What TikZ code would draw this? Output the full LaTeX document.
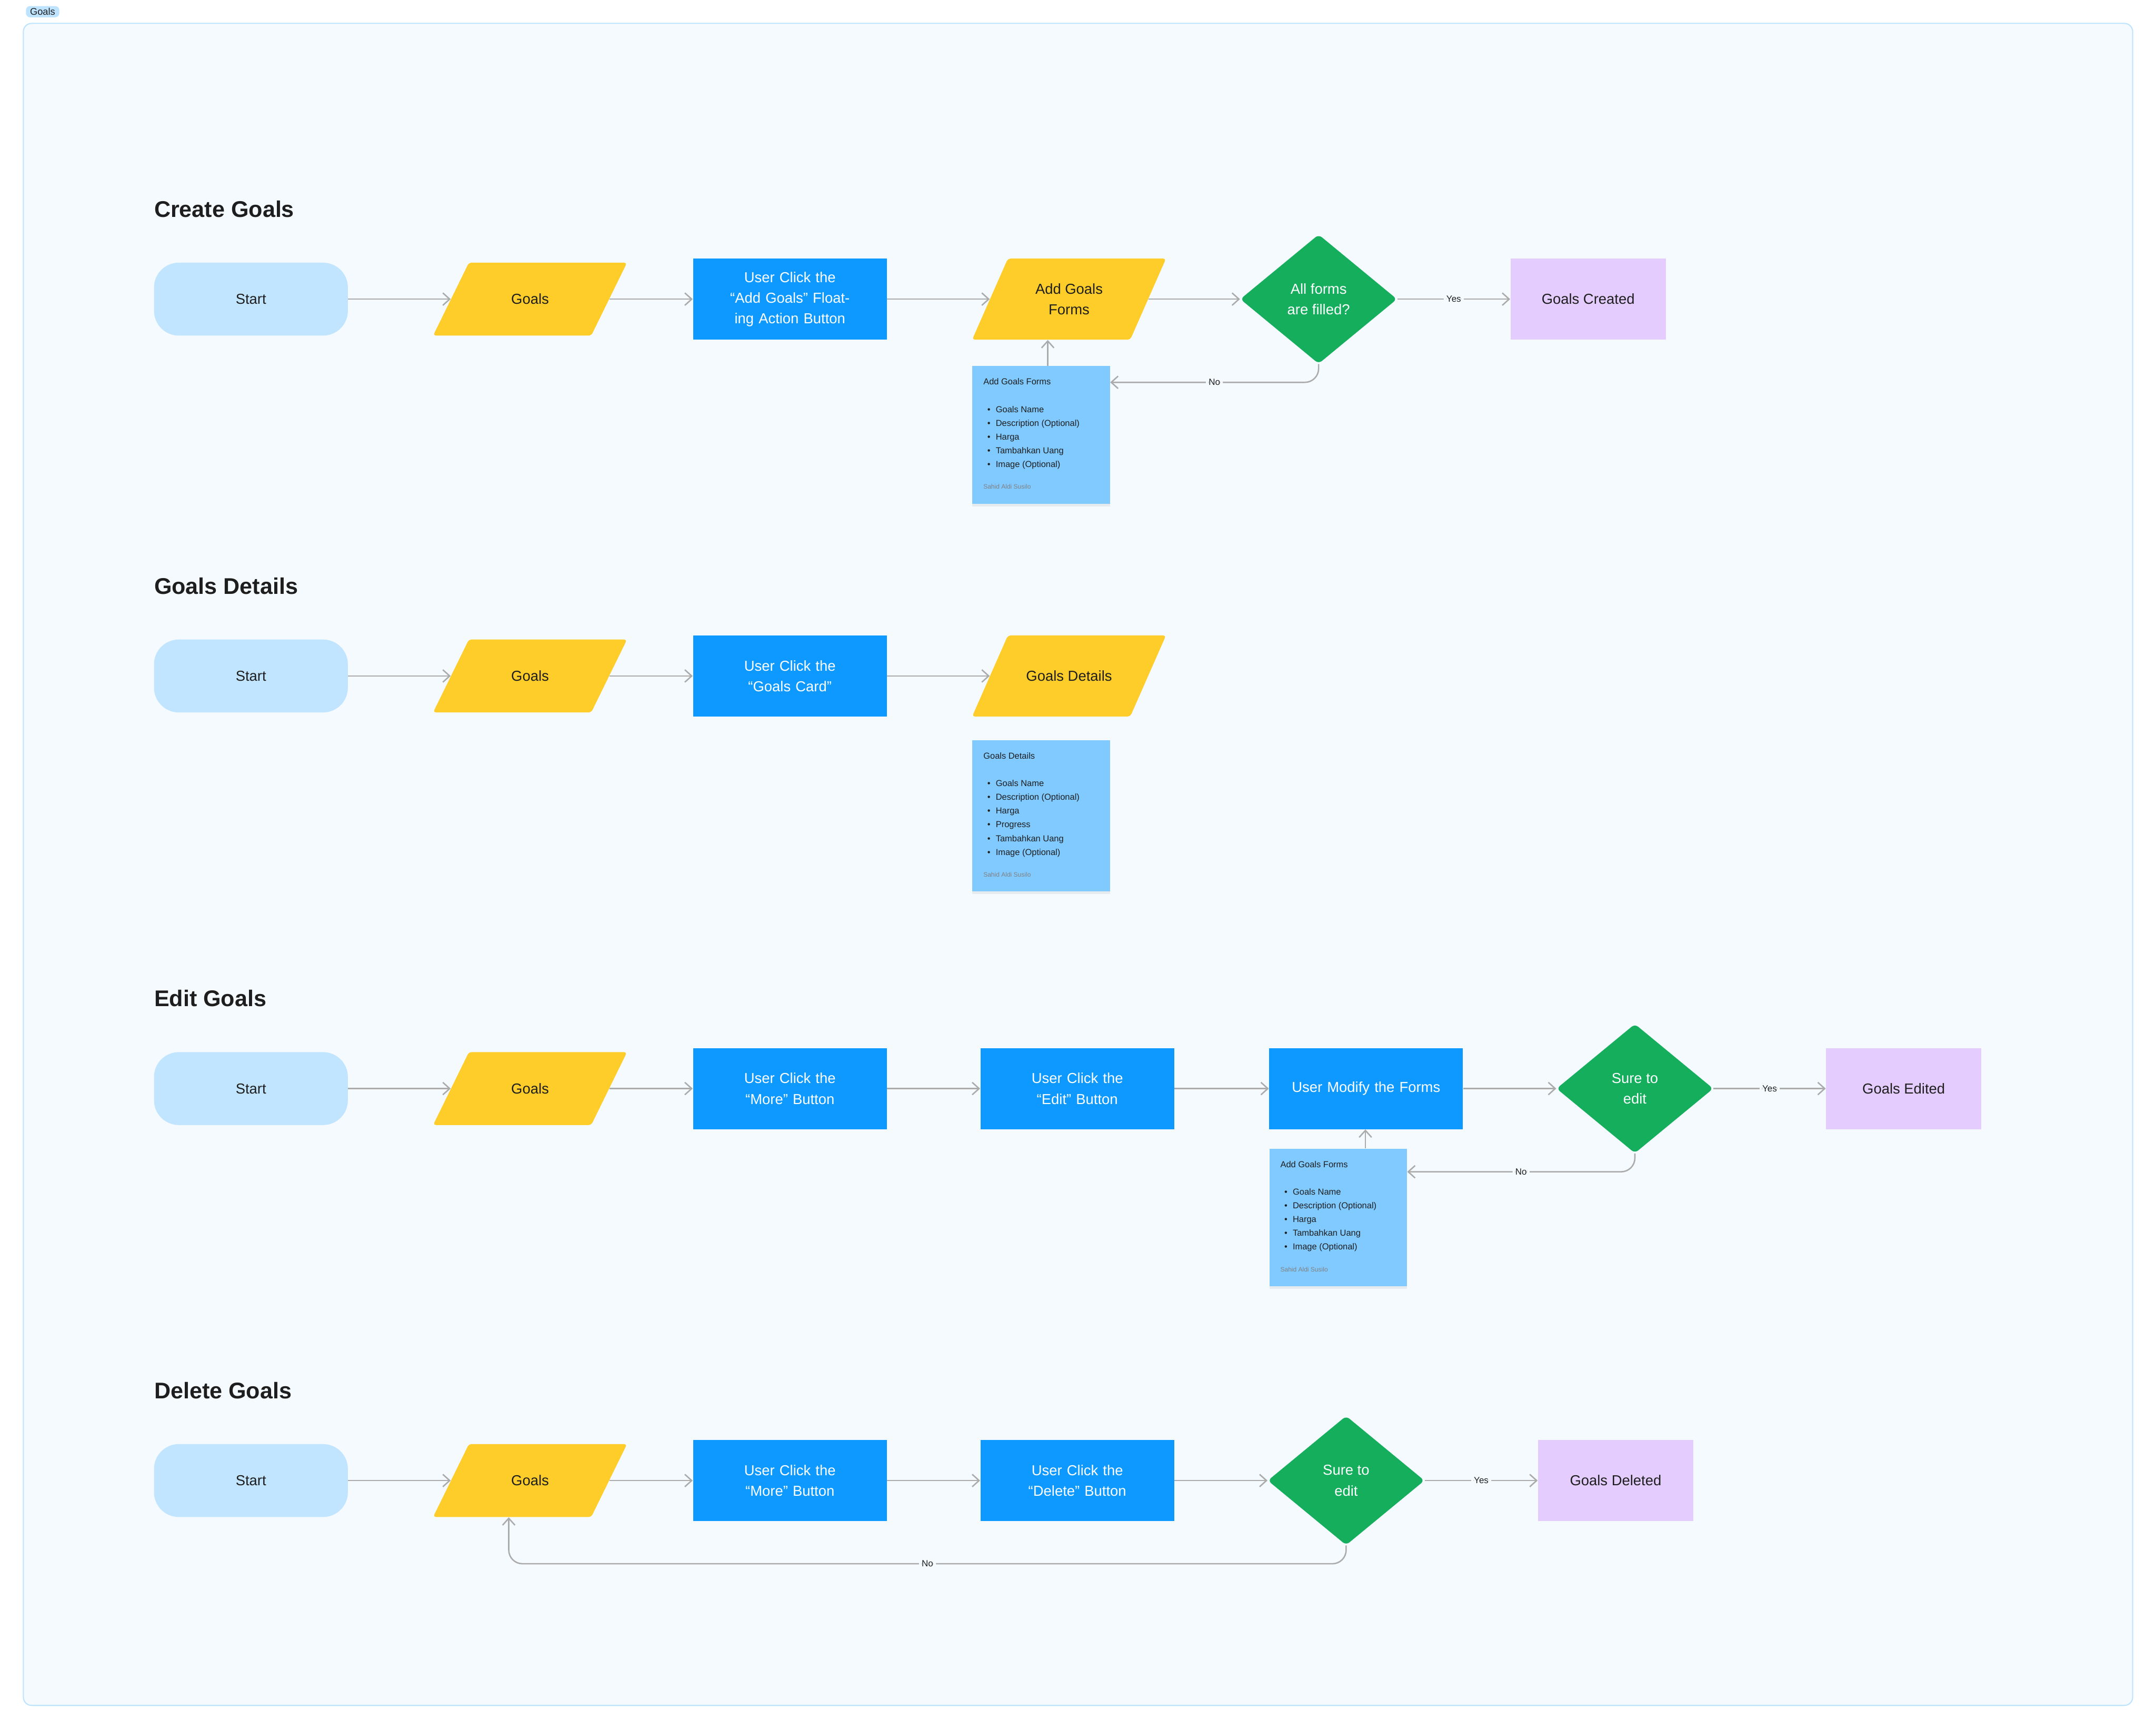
\documentclass[tikz,border=0pt]{standalone}
\usepackage{fontspec}
\setmainfont{Liberation Sans}
\usetikzlibrary{shapes.geometric,arrows.meta,shadows}
\definecolor{bgc}{HTML}{F5FAFF}
\definecolor{brd}{HTML}{BDE3FF}
\definecolor{startc}{HTML}{C2E5FF}
\definecolor{yel}{HTML}{FFCD29}
\definecolor{blu}{HTML}{0D99FF}
\definecolor{grn}{HTML}{14AE5C}
\definecolor{pur}{HTML}{E4CCFF}
\definecolor{notec}{HTML}{80CAFF}
\definecolor{arr}{HTML}{ABABAB}
\definecolor{txt}{HTML}{1E1E1E}
\tikzset{
 base/.style={inner sep=2pt,align=center,font=\fontsize{10.5}{15}\selectfont,text=txt},
 startn/.style={base,fill=startc,rounded corners=18pt,minimum width=141pt,minimum height=53pt},
 paran/.style={base,minimum width=115pt,minimum height=53pt},
 procn/.style={base,fill=blu,text=white,minimum width=141pt,minimum height=59pt,text width=125pt},
 endn/.style={base,fill=pur,minimum width=113pt,minimum height=59pt},
 decn/.style={base,shape=diamond,fill=grn,text=white,minimum width=114pt,minimum height=94pt,inner sep=0pt,rounded corners=3pt},
 noten/.style={fill=notec,minimum width=100pt,minimum height=100pt,anchor=north west,inner sep=0pt,drop shadow={opacity=0.12,shadow xshift=0pt,shadow yshift=-2pt}},
 notet/.style={anchor=north west,align=left,inner sep=0pt,text=txt,font=\fontsize{6.3}{10}\selectfont},
 notea/.style={anchor=north west,inner sep=0pt,text=gray,font=\fontsize{4.6}{6}\selectfont},
 title/.style={anchor=west,inner sep=0pt,text=txt,font=\fontsize{16.5}{20}\selectfont\bfseries},
 con/.style={draw=arr,line width=1pt,-{Straight Barb[length=5pt,width=9pt]},rounded corners=10pt},
 lab/.style={fill=bgc,inner sep=2pt,text=txt,font=\fontsize{6.5}{8}\selectfont},
}
\newcommand{\mypara}[5]{%
 \fill[yel,rounded corners=2pt] (#2-57.5-13,#3+26.5) -- (#2+57.5-13,#3+26.5) -- (#2+57.5+13,#3-26.5) -- (#2-57.5+13,#3-26.5) -- cycle;
 \node[paran,minimum height=53pt] (#1) at (#2,#3) {#4};}
\newcommand{\myparaw}[5]{%
 \fill[yel,rounded corners=2pt] (#2-57.5-13,#3+#5) -- (#2+57.5-13,#3+#5) -- (#2+57.5+13,#3-#5) -- (#2-57.5+13,#3-#5) -- cycle;
 \node[paran,minimum height=2*#5] (#1) at (#2,#3) {#4};}
\newcommand{\bl}{\makebox[10pt][c]{\textbullet}}
\begin{document}
\begin{tikzpicture}[x=1pt,y=-1pt]
\useasboundingbox (0,0) rectangle (1568,1257);
\fill[white] (0,0) rectangle (1568,1257);
\draw[brd,fill=bgc,rounded corners=6pt,line width=0.8pt] (17,17) rectangle (1551,1240);
\node[fill=brd,rounded corners=3pt,inner xsep=3pt,inner ysep=1.5pt,font=\fontsize{7}{8}\selectfont,text=txt] (tag) at (31,8.5) {Goals};

% Row 1
\node[title] (t1) at (112,152) {Create Goals};
\node[startn] (s1) at (182.5,217.5) {Start};
\mypara{g1}{385.5}{217.5}{Goals}{}
\node[procn] (p1) at (574.5,217.5) {User Click the “Add Goals” Floating Action Button};
\myparaw{f1}{777.5}{217.5}{Add Goals\\Forms}{29.5}
\node[decn] (d1) at (959,217.5) {All forms\\are filled?};
\node[endn] (e1) at (1155,217.5) {Goals Created};
\node[noten] (n1) at (707,266) {};
\node[notet] at (715,275) {Add Goals Forms};
\node[notet] at (714,295) {\bl Goals Name\\\bl Description (Optional)\\\bl Harga\\\bl Tambahkan Uang\\\bl Image (Optional)};
\node[notea] at (715,352) {Sahid Aldi Susilo};
\draw[con] (s1) -- (g1);
\draw[con] (g1) -- (p1);
\draw[con] (p1) -- (f1);
\draw[con] (f1) -- (d1);
\draw[con] (d1) -- node[lab]{Yes} (e1);
\draw[con] (d1.south) |- node[lab,pos=0.75]{No} (n1.east |- 0,278);
\draw[con] (n1.north -| 762,0) -- (f1.south -| 762,0);

% Row 2
\node[title] (t2) at (112,426) {Goals Details};
\node[startn] (s2) at (182.5,491.5) {Start};
\mypara{g2}{385.5}{491.5}{Goals}{}
\node[procn] (p2) at (574.5,491.5) {User Click the “Goals Card”};
\myparaw{f2}{777.5}{491.5}{Goals Details}{29.5}
\node[noten,minimum height=110pt] (n2) at (707,538) {};
\node[notet] at (715,547) {Goals Details};
\node[notet] at (714,567) {\bl Goals Name\\\bl Description (Optional)\\\bl Harga\\\bl Progress\\\bl Tambahkan Uang\\\bl Image (Optional)};
\node[notea] at (715,634) {Sahid Aldi Susilo};
\draw[con] (s2) -- (g2);
\draw[con] (g2) -- (p2);
\draw[con] (p2) -- (f2);

% Row 3
\node[title] (t3) at (112,726) {Edit Goals};
\node[startn] (s3) at (182.5,791.5) {Start};
\mypara{g3}{385.5}{791.5}{Goals}{}
\node[procn] (p3) at (574.5,791.5) {User Click the “More” Button};
\node[procn] (q3) at (783.5,791.5) {User Click the “Edit” Button};
\node[procn] (m3) at (993.5,791.5) {User Modify the Forms};
\node[decn] (d3) at (1189,791.5) {Sure to\\edit};
\node[endn] (e3) at (1384.5,791.5) {Goals Edited};
\node[noten] (n3) at (923,835) {};
\node[notet] at (931,844) {Add Goals Forms};
\node[notet] at (930,864) {\bl Goals Name\\\bl Description (Optional)\\\bl Harga\\\bl Tambahkan Uang\\\bl Image (Optional)};
\node[notea] at (931,921) {Sahid Aldi Susilo};
\draw[con] (s3) -- (g3);
\draw[con] (g3) -- (p3);
\draw[con] (p3) -- (q3);
\draw[con] (q3) -- (m3);
\draw[con] (m3) -- (d3);
\draw[con] (d3) -- node[lab]{Yes} (e3);
\draw[con] (d3.south) |- node[lab,pos=0.75]{No} (n3.east |- 0,852);
\draw[con] (n3.north -| 993,0) -- (m3.south -| 993,0);

% Row 4
\node[title] (t4) at (112,1011) {Delete Goals};
\node[startn] (s4) at (182.5,1076.5) {Start};
\mypara{g4}{385.5}{1076.5}{Goals}{}
\node[procn] (p4) at (574.5,1076.5) {User Click the “More” Button};
\node[procn] (q4) at (783.5,1076.5) {User Click the “Delete” Button};
\node[decn] (d4) at (979,1076.5) {Sure to\\edit};
\node[endn] (e4) at (1175,1076.5) {Goals Deleted};
\coordinate (c4) at (370,1137);
\draw[con] (s4) -- (g4);
\draw[con] (g4) -- (p4);
\draw[con] (p4) -- (q4);
\draw[con] (q4) -- (d4);
\draw[con] (d4) -- node[lab]{Yes} (e4);
\draw[con] (d4.south) |- node[lab,pos=0.75]{No} (c4) -- (g4.south -| c4);
\end{tikzpicture}
\end{document}
